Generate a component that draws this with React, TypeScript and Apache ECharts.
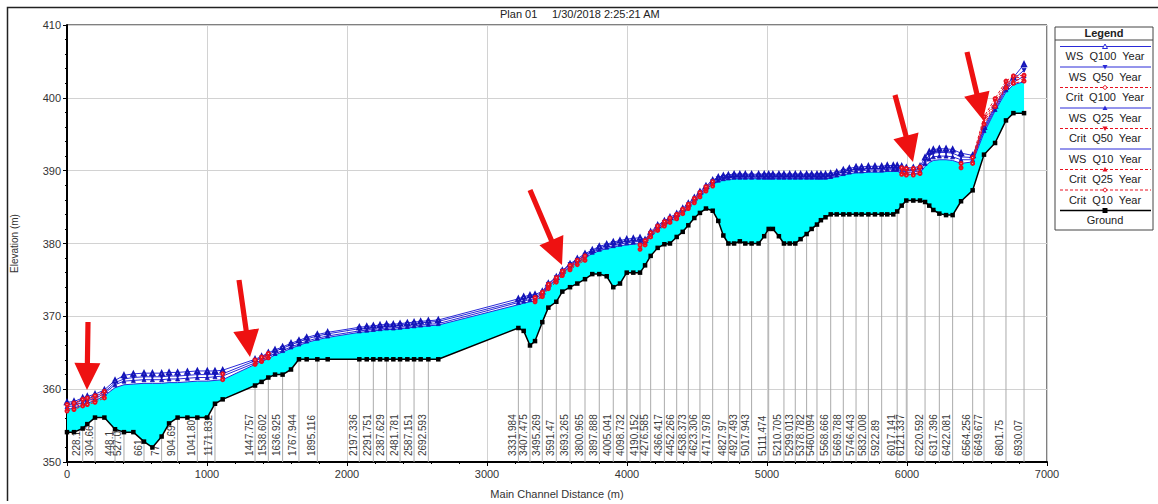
import React, { useEffect, useRef } from 'react';
import * as echarts from 'echarts';

// Main channel distance (m) of each cross section
const dist = [0,50,112,145,200,267,343,407,474,550,610,676,729,790,860,931,1002,1057,1112,
  1343,1390,1438,1486,1540,1600,1657,1712,1788,1862,
  2088,2141,2188,2236,2283,2331,2379,2431,2479,2526,2581,2652,
  3224,3262,3307,3343,3395,3438,3495,3538,3593,3645,3700,3752,3802,3855,3902,3950,3998,4045,4093,
  4129,4169,4219,4267,4307,4355,4398,4438,4481,4521,4564,4612,
  4652,4688,4724,4765,4806,4845,4890,4940,4980,5012,5042,5085,5121,5162,5202,5240,5283,5319,5357,5385,5418,5455,5498,5545,5588,5636,5676,5724,5771,5819,5859,5902,
  5930,5962,5995,6045,6093,6129,6159,6188,6231,6279,6326,6386,6469,6550,6629,6707,6760,6836];

// Ground elevation (m)
const ground = [354.1,354.1,354.6,355.2,356.1,356.1,354.5,354.1,354.1,352.8,352.0,353.5,355.3,356.1,356.1,356.1,356.1,358.0,358.6,
  360.5,361.0,361.6,362.0,362.0,362.7,364.1,364.1,364.1,364.1,
  364.1,364.1,364.1,364.1,364.1,364.1,364.1,364.1,364.1,364.1,364.1,364.1,
  368.4,368.0,366.0,366.6,369.2,371.2,372.0,373.4,374.0,374.5,375.1,375.8,375.8,375.5,374.0,374.5,376.0,376.0,376.0,
  377.0,378.3,379.4,379.9,380.0,380.9,381.6,382.5,383.5,384.2,384.8,384.5,
  383.1,381.1,380.0,380.0,380.3,380.0,380.0,380.0,381.0,382.0,382.0,381.0,380.0,380.0,380.0,380.6,381.3,382.0,382.6,383.2,383.6,384.0,384.0,384.0,384.0,384.0,384.0,384.0,384.0,384.0,384.0,384.0,
  384.4,385.2,385.9,385.9,385.9,385.7,385.2,384.6,384.1,383.9,383.9,385.8,387.3,392.2,393.8,396.9,397.9,397.9];

// River station labels (blank = not labelled)
const riverStations = ['', '', '228.1', '', '304.66', '', '448.1', '527.0', '', '661', '', '77', '', '904.69', '', '1041.80', '', '1171.832', '',
  '1447.757', '', '1538.602', '', '1636.925', '', '1767.944', '', '1895.116', '',
  '2197.336', '', '2291.751', '', '2387.629', '', '2481.781', '', '2587.151', '', '2692.593', '',
  '3331.984', '', '3407.475', '', '3495.269', '', '3591.47', '', '3693.265', '', '3800.965', '', '3897.888', '', '4005.041', '', '4098.732', '', '4190.152',
  '', '4276.585', '', '4366.417', '', '4452.266', '', '4538.373', '', '4623.306', '', '4717.978',
  '', '', '4827.97', '', '4927.493', '', '5017.943', '', '', '5111.474', '', '', '5210.705', '', '5299.013', '', '5378.782', '', '5460.094', '', '', '5568.666', '', '5669.788', '', '5746.443', '', '5832.008', '', '5922.89', '', '',
  '6017.141', '', '6121.337', '', '', '6220.592', '', '', '6317.396', '', '6422.081', '', '6564.256', '6649.677', '', '6801.75', '', '6930.07'];

const wsQ100 = [358.2,358.3,358.8,359.0,359.3,359.9,361.2,361.9,362.1,362.2,362.2,362.2,362.3,362.3,362.4,362.5,362.5,362.5,362.6,
  364.1,364.5,365.0,365.4,365.8,366.3,366.7,367.1,367.5,367.8,
  368.5,368.6,368.7,368.8,368.9,368.9,369.0,369.1,369.2,369.3,369.4,369.5,
  372.4,372.7,372.9,373.0,373.4,374.5,375.4,376.3,377.2,377.9,378.6,379.1,379.6,379.9,380.2,380.4,380.6,380.7,380.8,
  380.5,381.6,382.5,383.1,383.6,384.1,384.8,385.5,386.3,387.1,387.9,388.7,
  389.1,389.3,389.4,389.5,389.5,389.5,389.5,389.5,389.5,389.5,389.5,389.5,389.5,389.5,389.5,389.5,389.5,389.5,389.5,389.5,389.5,389.6,389.8,390.1,390.3,390.5,390.5,390.6,390.6,390.6,390.7,390.7,
  390.7,390.6,390.4,390.4,390.6,391.8,392.6,392.9,393.0,393.0,392.9,392.4,392.1,396.0,398.9,401.6,402.8,404.6];

const wsQ50 = [357.9,358.0,358.5,358.7,359.0,359.6,360.9,361.4,361.6,361.7,361.7,361.7,361.8,361.8,361.9,362.0,362.0,362.0,362.1,
  363.9,364.3,364.7,365.2,365.6,366.1,366.5,366.9,367.3,367.6,
  368.3,368.4,368.5,368.6,368.7,368.7,368.8,368.9,369.0,369.1,369.2,369.3,
  372.1,372.4,372.6,372.7,373.2,374.4,375.3,376.2,377.1,377.7,378.4,378.9,379.4,379.7,380.0,380.2,380.3,380.4,380.5,
  380.3,381.4,382.3,382.9,383.4,383.9,384.6,385.3,386.1,386.9,387.7,388.5,
  388.9,389.1,389.2,389.3,389.3,389.3,389.3,389.3,389.3,389.3,389.3,389.3,389.3,389.3,389.3,389.3,389.3,389.3,389.3,389.3,389.3,389.4,389.6,389.9,390.1,390.2,390.2,390.3,390.3,390.3,390.4,390.4,
  390.4,390.3,390.1,390.1,390.3,391.4,392.1,392.4,392.5,392.5,392.4,391.9,391.8,395.7,398.7,401.3,402.5,403.8];

const wsQ25 = [357.6,357.7,358.2,358.4,358.7,359.4,360.6,361.1,361.2,361.3,361.3,361.3,361.4,361.4,361.5,361.6,361.6,361.7,361.8,
  363.6,364.0,364.5,364.9,365.3,365.8,366.2,366.6,367.0,367.3,
  368.0,368.1,368.2,368.3,368.4,368.4,368.5,368.6,368.7,368.8,368.9,369.0,
  371.9,372.1,372.3,372.4,373.1,374.2,375.1,376.0,376.9,377.6,378.3,378.8,379.2,379.5,379.7,379.9,380.1,380.2,380.3,
  380.2,381.3,382.2,382.8,383.3,383.8,384.5,385.2,386.0,386.8,387.6,388.4,
  388.7,388.9,389.0,389.1,389.1,389.1,389.1,389.1,389.1,389.1,389.1,389.1,389.1,389.1,389.1,389.1,389.1,389.1,389.1,389.1,389.1,389.2,389.4,389.6,389.8,390.0,390.0,390.1,390.1,390.1,390.2,390.2,
  390.2,390.0,389.8,389.8,390.0,391.0,391.6,391.9,392.0,392.0,391.9,391.5,391.5,395.5,398.4,401.1,402.1,403.0];

const wsQ10 = [357.2,357.4,357.8,358.1,358.4,359.1,360.2,360.6,360.7,360.8,360.8,360.8,360.9,360.9,361.0,361.1,361.1,361.2,361.3,
  363.4,363.8,364.2,364.7,365.1,365.6,366.0,366.4,366.8,367.1,
  367.8,367.9,368.0,368.1,368.2,368.2,368.3,368.4,368.5,368.6,368.7,368.8,
  371.6,371.8,372.0,372.1,372.9,374.1,375.0,375.9,376.8,377.4,378.1,378.6,379.0,379.3,379.5,379.7,379.8,379.9,380.0,
  380.0,381.1,382.0,382.6,383.1,383.6,384.3,385.0,385.8,386.6,387.4,388.2,
  388.5,388.7,388.8,388.9,388.9,388.9,388.9,388.9,388.9,388.9,388.9,388.9,388.9,388.9,388.9,388.9,388.9,388.9,388.9,388.9,388.9,389.0,389.2,389.4,389.6,389.7,389.7,389.8,389.8,389.8,389.9,389.9,
  389.9,389.7,389.5,389.5,389.7,390.6,391.1,391.4,391.5,391.5,391.4,391.0,391.2,395.2,398.2,400.8,401.8,402.2];

// Critical water surface, only where computed: [distance, elevation] segments
const critQ100 = [
  [[0,357.9],[50,358.1],[112,358.6],[145,358.8],[200,359.1],[267,359.7]],
  [[1112,362.1]],
  [[1343,364.0],[1390,364.4],[1438,364.9]],
  [[3343,372.6],[3395,373.3],[3438,374.4],[3495,375.3],[3538,376.2],[3593,377.0],[3645,377.7],[3700,378.3]],
  [[4093,379.8],[4129,380.4],[4169,381.5],[4219,382.4],[4267,383.0],[4307,383.5],[4355,384.0],[4398,384.7],[4438,385.4],[4481,386.2],[4521,387.0],[4564,387.8],[4612,388.5]],
  [[5962,390.4],[5995,390.3],[6045,390.3],[6093,390.5]],
  [[6386,391.0]],
  [[6469,391.8],[6550,397.4],[6629,399.9],[6707,402.3],[6760,403.0],[6836,403.1]],
];
const critQ50 = [
  [[0,357.6],[50,357.8],[112,358.3],[145,358.5],[200,358.8],[267,359.4]],
  [[1112,361.9]],
  [[1343,363.8],[1390,364.2],[1438,364.7]],
  [[3343,372.4],[3395,373.1],[3438,374.2],[3495,375.1],[3538,376.0],[3593,376.8],[3645,377.5],[3700,378.1]],
  [[4093,379.6],[4129,380.2],[4169,381.3],[4219,382.2],[4267,382.8],[4307,383.3],[4355,383.8],[4398,384.5],[4438,385.2],[4481,386.0],[4521,386.8],[4564,387.6],[4612,388.3]],
  [[5962,390.1],[5995,390.0],[6045,390.0],[6093,390.2]],
  [[6386,390.8]],
  [[6469,391.6],[6550,397.0],[6629,399.5],[6707,401.9],[6760,402.7],[6836,402.9]],
];
const critQ25 = [
  [[0,357.3],[50,357.5],[112,358.0],[145,358.2],[200,358.5],[267,359.1]],
  [[1112,361.6]],
  [[1343,363.6],[1390,364.0],[1438,364.5]],
  [[3343,372.2],[3395,372.9],[3438,374.0],[3495,374.9],[3538,375.8],[3593,376.6],[3645,377.3],[3700,377.9]],
  [[4093,379.4],[4129,380.0],[4169,381.1],[4219,382.0],[4267,382.6],[4307,383.1],[4355,383.6],[4398,384.3],[4438,385.0],[4481,385.8],[4521,386.6],[4564,387.4],[4612,388.1]],
  [[5962,389.8],[5995,389.7],[6045,389.7],[6093,389.9]],
  [[6386,390.6]],
  [[6469,391.3],[6550,396.7],[6629,399.1],[6707,401.6],[6760,402.4],[6836,402.6]],
];
const critQ10 = [
  [[0,357.0],[50,357.2],[112,357.7],[145,357.9],[200,358.2],[267,358.8]],
  [[1112,361.3]],
  [[1343,363.4],[1390,363.8],[1438,364.3]],
  [[3343,372.0],[3395,372.7],[3438,373.8],[3495,374.7],[3538,375.6],[3593,376.4],[3645,377.1],[3700,377.7]],
  [[4093,379.2],[4129,379.8],[4169,380.9],[4219,381.8],[4267,382.4],[4307,382.9],[4355,383.4],[4398,384.1],[4438,384.8],[4481,385.6],[4521,386.4],[4564,387.2],[4612,387.9]],
  [[5962,389.5],[5995,389.4],[6045,389.4],[6093,389.6]],
  [[6386,390.4]],
  [[6469,391.0],[6550,396.4],[6629,398.8],[6707,401.4],[6760,402.0],[6836,402.3]],
];

const xTicks = { min: 0, max: 7000, interval: 1000 };
const yTicks = { min: 350, max: 410, interval: 10 };

const legendNames = ['WS  Q100  Year', 'WS  Q50  Year', 'Crit  Q100  Year', 'WS  Q25  Year', 'Crit  Q50  Year', 'WS  Q10  Year', 'Crit  Q25  Year', 'Crit  Q10  Year', 'Ground'];

const FONT = '"Liberation Sans", Arial, Helvetica, sans-serif';
const BLUE = '#2a2ad8';
const BLUE_MK = '#1414b8';
const RED = '#e81020';

function arrowPts(tx: number, ty: number, hx: number, hy: number) {
  const dx = hx - tx, dy = hy - ty;
  const L = Math.hypot(dx, dy);
  const ux = dx / L, uy = dy / L;
  const nx = -uy, ny = ux;
  const headLen = 27, headW = 13, shaftW = 2.6;
  const bx = hx - ux * headLen, by = hy - uy * headLen;
  return [
    [tx + nx * shaftW, ty + ny * shaftW],
    [bx + nx * shaftW, by + ny * shaftW],
    [bx + nx * headW, by + ny * headW],
    [hx, hy],
    [bx - nx * headW, by - ny * headW],
    [bx - nx * shaftW, by - ny * shaftW],
    [tx - nx * shaftW, ty - ny * shaftW],
  ];
}

function legendMarker(kind: string, cx: number, cy: number, color: string): any {
  if (kind === 'triUp') return { type: 'polygon', shape: { points: [[cx, cy - 2.5], [cx + 2.5, cy + 2], [cx - 2.5, cy + 2]] }, style: { fill: color } };
  if (kind === 'triDown') return { type: 'polygon', shape: { points: [[cx, cy + 2.5], [cx + 2.5, cy - 2], [cx - 2.5, cy - 2]] }, style: { fill: color } };
  if (kind === 'triOpen') return { type: 'polygon', shape: { points: [[cx, cy - 2.5], [cx + 2.5, cy + 2], [cx - 2.5, cy + 2]] }, style: { fill: '#fff', stroke: color, lineWidth: 1 } };
  if (kind === 'circle') return { type: 'circle', shape: { cx, cy, r: 1.8 }, style: { fill: '#fff', stroke: color, lineWidth: 1 } };
  if (kind === 'square') return { type: 'rect', shape: { x: cx - 2.5, y: cy - 2.5, width: 5, height: 5 }, style: { fill: color } };
  return null;
}

export default function App() {
  const ref = useRef<HTMLDivElement>(null);
  useEffect(() => {
    if (!ref.current) return;
    const chart = echarts.init(ref.current, null, { renderer: 'svg' });
    const pairs = (ys: number[]) => dist.map((d, i) => [d, ys[i]]);
    const joinSegs = (segs: number[][][]) =>
      segs.flatMap((s, i) => (i === 0 ? s : [[s[0][0], '-'], ...s])) as any[];
    const labeledIdx = riverStations.map((s, i) => (s ? i : -1)).filter((i) => i >= 0);

    const wsSeries = (name: string, ys: number[], symbol: string, rotate: number, z: number) => ({
      name, type: 'line', data: pairs(ys), z, silent: true,
      symbol, symbolSize: symbol === 'none' ? 0 : 4, symbolRotate: rotate, showSymbol: symbol !== 'none',
      lineStyle: { color: BLUE, width: 1 },
      itemStyle: { color: BLUE_MK, borderColor: BLUE_MK, borderWidth: 0.8 },
    });
    const critSeries = (name: string, segs: number[][][], symbol: string, rotate: number, z: number) => ({
      name, type: 'line', data: joinSegs(segs), z, silent: true, connectNulls: false,
      symbol, symbolSize: 3, symbolRotate: rotate,
      lineStyle: { color: RED, width: 1, type: [3, 2] },
      itemStyle: { color: RED, borderColor: RED, borderWidth: 0.8 },
    });

    const legendEls: any[] = [
      { type: 'rect', shape: { x: 1055, y: 27, width: 98, height: 203 }, style: { fill: '#fff', stroke: '#444', lineWidth: 1 } },
      { type: 'text', x: 1104, y: 33, style: { text: 'Legend', font: `bold 11px ${FONT}`, fill: '#222', align: 'center', verticalAlign: 'middle' } },
      { type: 'line', shape: { x1: 1055, y1: 40, x2: 1153, y2: 40 }, style: { stroke: '#444', lineWidth: 1 } },
    ];
    const legendKinds = [
      { c: BLUE, dash: false, mk: 'triOpen' },
      { c: BLUE, dash: false, mk: 'triDown' },
      { c: RED, dash: true, mk: 'circle' },
      { c: BLUE, dash: false, mk: 'triUp' },
      { c: RED, dash: true, mk: 'triDown' },
      { c: BLUE, dash: false, mk: '' },
      { c: RED, dash: true, mk: 'triUp' },
      { c: RED, dash: true, mk: 'circle' },
      { c: '#000', dash: false, mk: 'square' },
    ];
    legendNames.forEach((nm, k) => {
      const ly = 46.5 + k * 20.5;
      const kd = legendKinds[k];
      const lineStyle: any = { stroke: kd.c, lineWidth: kd.c === '#000' ? 1.5 : 1 };
      if (kd.dash) lineStyle.lineDash = [3, 2];
      legendEls.push({ type: 'line', shape: { x1: 1060, y1: ly, x2: 1151, y2: ly }, style: lineStyle });
      const m = legendMarker(kd.mk, 1105, ly, kd.c);
      if (m) legendEls.push(m);
      legendEls.push({ type: 'text', x: 1105, y: ly + 9.5, style: { text: nm, font: `11px ${FONT}`, fill: '#222', align: 'center', verticalAlign: 'middle' } });
    });

    const arrows = [
      [88, 322, 87, 390],
      [239, 280, 250, 357],
      [530, 190, 562, 265],
      [895, 95, 913, 162],
      [967, 52, 983, 120],
    ].map(([a, b, c, d]) => ({ type: 'polygon', z: 100, shape: { points: arrowPts(a, b, c, d) }, style: { fill: '#ee1111' } }));

    const option: any = {
      animation: false,
      backgroundColor: '#fff',
      textStyle: { fontFamily: FONT },
      grid: { left: 67, top: 25, right: 111, bottom: 40, show: true, borderColor: '#000', borderWidth: 1, backgroundColor: 'transparent' },
      xAxis: {
        type: 'value', ...xTicks,
        name: 'Main Channel Distance (m)', nameLocation: 'middle', nameGap: 26,
        nameTextStyle: { fontSize: 11, color: '#333', fontFamily: FONT },
        axisLine: { show: true, onZero: false, lineStyle: { color: '#000', width: 2 } },
        axisTick: { show: true, length: 4, lineStyle: { color: '#000' } },
        minorTick: { show: true, splitNumber: 5, length: 2, lineStyle: { color: '#000' } },
        axisLabel: { color: '#333', fontSize: 11, margin: 6, fontFamily: FONT, formatter: (v: number) => String(v) },
        splitLine: { show: true, lineStyle: { color: '#d2d2d2', width: 1 } },
      },
      yAxis: {
        type: 'value', ...yTicks,
        name: 'Elevation (m)', nameLocation: 'middle', nameGap: 48,
        nameTextStyle: { fontSize: 10, color: '#333', fontFamily: FONT },
        axisLine: { show: true, onZero: false, lineStyle: { color: '#000', width: 2 } },
        axisTick: { show: true, length: 4, lineStyle: { color: '#000' } },
        minorTick: { show: true, splitNumber: 5, length: 2, lineStyle: { color: '#000' } },
        axisLabel: { color: '#333', fontSize: 11, margin: 6, fontFamily: FONT, formatter: (v: number) => String(v) },
        splitLine: { show: true, lineStyle: { color: '#d2d2d2', width: 1 } },
      },
      graphic: [
        { type: 'polyline', shape: { points: [[7.5, 501], [7.5, 7.5], [1158, 7.5]] }, style: { stroke: '#222', lineWidth: 1.5, fill: null } },
        { type: 'text', x: 500, y: 14, style: { text: 'Plan 01', font: `11px ${FONT}`, fill: '#222', verticalAlign: 'middle' } },
        { type: 'text', x: 552, y: 14, style: { text: '1/30/2018', font: `11px ${FONT}`, fill: '#222', verticalAlign: 'middle' } },
        { type: 'text', x: 604, y: 14, style: { text: '2:25:21 AM', font: `11px ${FONT}`, fill: '#222', verticalAlign: 'middle' } },
        ...legendEls,
        ...arrows,
      ],
      series: [
        {
          type: 'custom', name: 'fill', z: 1, silent: true, clip: true,
          data: [[0, 350]],
          renderItem: (_p: any, api: any) => {
            const top = dist.map((d, i) => api.coord([d, wsQ10[i]]));
            const bot = dist.map((d, i) => api.coord([d, ground[i]])).reverse();
            return { type: 'polygon', shape: { points: top.concat(bot) }, style: { fill: '#00ffff' } };
          },
        },
        {
          type: 'custom', name: 'stations', z: 2, silent: true, clip: true,
          data: labeledIdx.map((i) => [dist[i], ground[i]]),
          renderItem: (p: any, api: any) => {
            const i = labeledIdx[p.dataIndex];
            const top = api.coord([dist[i], ground[i]]);
            const bot = api.coord([dist[i], yTicks.min]);
            return {
              type: 'group',
              children: [
                { type: 'line', shape: { x1: top[0], y1: top[1], x2: bot[0], y2: bot[1] }, style: { stroke: '#ababab', lineWidth: 1 } },
                { type: 'text', x: bot[0] - 1, y: bot[1] - 6, rotation: Math.PI / 2,
                  style: { text: riverStations[i], fontSize: 10, fontFamily: FONT, fill: '#3a3a3a', align: 'left', verticalAlign: 'bottom' } },
              ],
            };
          },
        },
        wsSeries('WS Q10 Year', wsQ10, 'none', 0, 3),
        wsSeries('WS Q25 Year', wsQ25, 'triangle', 0, 4),
        wsSeries('WS Q50 Year', wsQ50, 'triangle', 180, 5),
        wsSeries('WS Q100 Year', wsQ100, 'emptyTriangle', 0, 6),
        critSeries('Crit Q10 Year', critQ10, 'emptyCircle', 0, 7),
        critSeries('Crit Q25 Year', critQ25, 'triangle', 0, 7),
        critSeries('Crit Q50 Year', critQ50, 'triangle', 180, 7),
        critSeries('Crit Q100 Year', critQ100, 'emptyCircle', 0, 7),
        {
          name: 'Ground', type: 'line', data: pairs(ground), z: 8, silent: true,
          symbol: 'rect', symbolSize: 4.5,
          lineStyle: { color: '#000', width: 1.5 },
          itemStyle: { color: '#000' },
        },
      ],
    };
    chart.setOption(option);
    return () => chart.dispose();
  }, []);
  return <div ref={ref} style={{ position: 'fixed', left: 0, top: 0, width: 1158, height: 504, background: '#fff' }} />;
}
